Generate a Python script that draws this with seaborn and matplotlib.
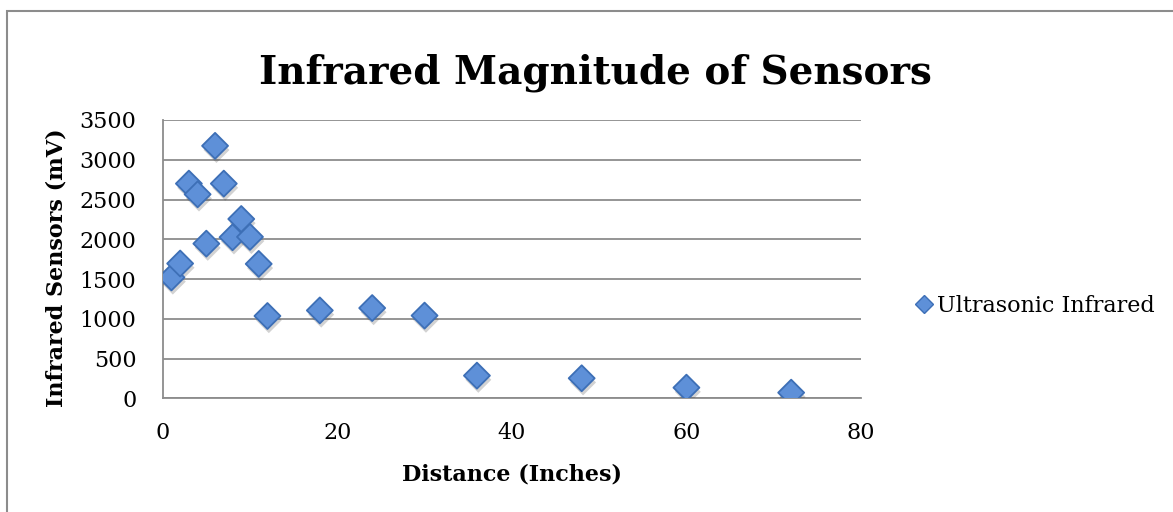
import matplotlib
matplotlib.use("Agg")
import matplotlib.pyplot as plt
import matplotlib.patheffects as pe
from matplotlib.lines import Line2D
from matplotlib.patches import Rectangle
import seaborn as sns
import pandas as pd

# Sensor readings: distance (inches) vs. infrared magnitude (mV)
distance_in = [1, 2, 3, 4, 5, 6, 7, 8, 9, 10, 11, 12, 18, 24, 30, 36, 48, 60, 72]
infrared_mv = [1520, 1695, 2700, 2565, 1945, 3175, 2700, 2025, 2255, 2030, 1690,
               1035, 1105, 1135, 1040, 285, 252, 134, 71]
series_name = "Ultrasonic Infrared"
x_ticks = [0, 20, 40, 60, 80]
y_ticks = [0, 500, 1000, 1500, 2000, 2500, 3000, 3500]

df = pd.DataFrame({"Distance": distance_in, "Infrared": infrared_mv})

sns.set_style("white")
plt.rcParams["font.family"] = ["DejaVu Serif"]
plt.rcParams["text.color"] = "black"
plt.rcParams["axes.labelcolor"] = "black"

W, H, DPI = 1173, 512, 100
fig = plt.figure(figsize=(W / DPI, H / DPI), dpi=DPI)
ax = fig.add_axes([162.7 / W, 1 - 398.3 / H, (861 - 162.7) / W, (398.3 - 120) / H])

fill_c = "#5e90d8"
edge_c = "#3d6fb6"
grid_c = "#8c8c8c"

sns.scatterplot(data=df, x="Distance", y="Infrared", ax=ax, marker="D", s=175,
                color=fill_c, edgecolor=edge_c, linewidth=1.3, zorder=3,
                legend=False)
for coll in ax.collections:
    coll.set_path_effects([pe.SimplePatchShadow(offset=(1.0, -3), alpha=0.22,
                                                shadow_rgbFace="#333333"),
                           pe.Normal()])

ax.set_xlim(0, 80)
ax.set_ylim(0, 3500)
ax.set_xticks(x_ticks)
ax.set_yticks(y_ticks)
ax.tick_params(axis="both", labelsize=16, labelcolor="black", color=grid_c,
               length=7, width=1.2, direction="out")
ax.tick_params(axis="x", pad=10)
ax.tick_params(axis="y", pad=12)

ax.yaxis.grid(True, color=grid_c, linewidth=1.3)
ax.xaxis.grid(False)
ax.set_axisbelow(True)
for side in ("top", "right"):
    ax.spines[side].set_visible(False)
for side in ("left", "bottom"):
    ax.spines[side].set_color(grid_c)
    ax.spines[side].set_linewidth(1.3)

ax.set_xlabel("Distance (Inches)", fontsize=16, fontweight="bold")
ax.set_ylabel("Infrared Sensors (mV)", fontsize=16, fontweight="bold")
ax.xaxis.set_label_coords(0.5, -0.236)
ax.yaxis.set_label_coords(-0.137, 0.47)

fig.text(595 / W, 1 - 83 / H, "Infrared Magnitude of Sensors", fontsize=28,
         fontweight="bold", ha="center", va="baseline")

handle = Line2D([], [], marker="D", linestyle="none", markersize=9,
                markerfacecolor=fill_c, markeredgecolor=edge_c,
                markeredgewidth=1.0)
fig.legend([handle], [series_name], loc="center left",
           bbox_to_anchor=(904 / W, 1 - 306 / H), frameon=False, fontsize=16,
           handlelength=0.8, handletextpad=0.2, borderpad=0)

# Chart-area border
fig.patches.append(Rectangle((7 / W, -0.1), 1.2, 1 - 11 / H + 0.1,
                             transform=fig.transFigure, fill=False,
                             edgecolor="#8c8c8c", linewidth=1.5))

fig.savefig("out.png", dpi=DPI, facecolor="white")
